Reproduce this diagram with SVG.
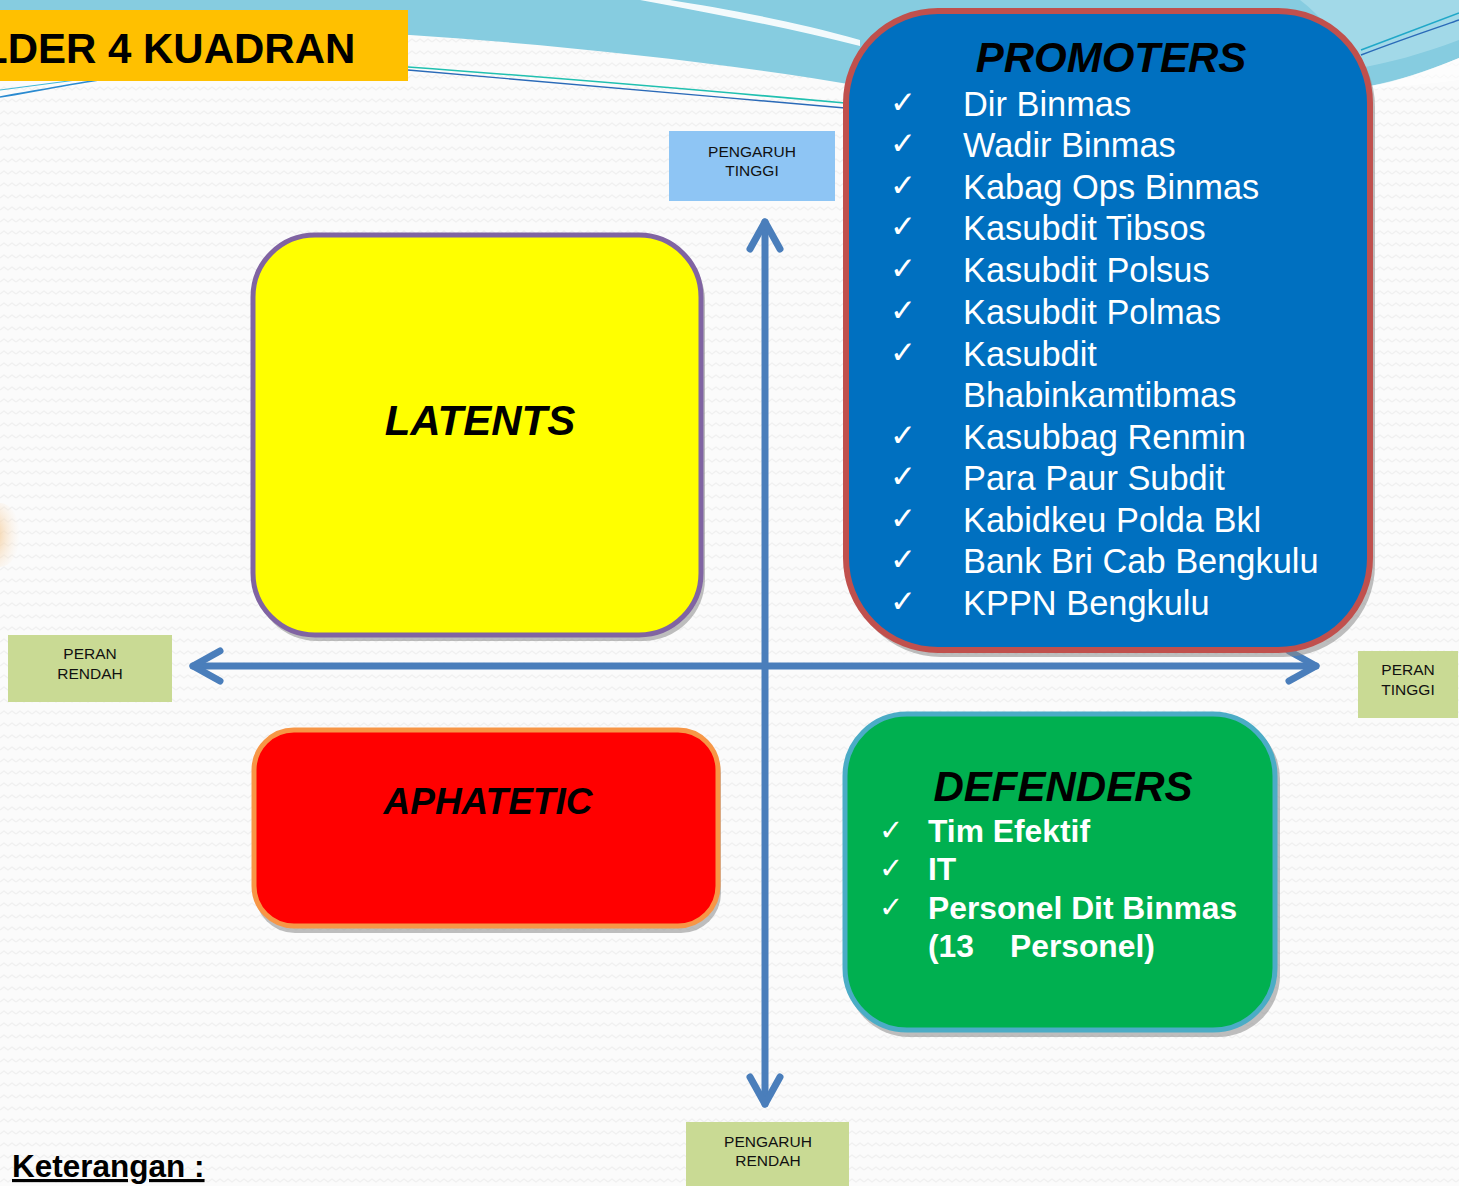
<svg xmlns="http://www.w3.org/2000/svg" width="1459" height="1186" viewBox="0 0 1459 1186">
<defs>
<pattern id="zz" width="16" height="12" patternUnits="userSpaceOnUse">
<rect width="16" height="12" fill="#fbfbfb"/>
<path d="M0,6 L4,3 L8,6 L12,3 L16,6" fill="none" stroke="#f0f0f0" stroke-width="1.2"/>
</pattern>
<radialGradient id="peach" cx="0.3" cy="0.5" r="0.7">
<stop offset="0" stop-color="#f3c890"/>
<stop offset="1" stop-color="#fbe9d6" stop-opacity="0"/>
</radialGradient>
<style>
.lbl{font-family:"Liberation Sans",Arial,sans-serif;font-size:15.5px;fill:#111;text-anchor:middle}
.ttl{font-family:"Liberation Sans",Arial,sans-serif;font-weight:bold;font-style:italic;fill:#000;text-anchor:middle}
.pi{font-family:"Liberation Sans",Arial,sans-serif;font-size:34.4px;fill:#fff}
.di{font-family:"Liberation Sans",Arial,sans-serif;font-size:31.8px;font-weight:bold;fill:#fff}
.ck{font-family:"DejaVu Sans",sans-serif;fill:#fff}
.axis{stroke:#4a7ebb;stroke-width:7;fill:none;stroke-linecap:round;stroke-linejoin:round}
.shadow{fill:#8a8a8a;opacity:0.55}
</style>
</defs>
<rect width="1459" height="1186" fill="url(#zz)"/>
<!-- top swoosh background -->
<path d="M0,0 H1459 V58 C1425,72 1395,82 1370,86 L860,86 C720,62 560,45 410,35 L0,28 Z" fill="#86cce0"/>
<path d="M1300,0 H1459 V40 C1420,55 1390,62 1360,68 C1340,40 1320,15 1300,0 Z" fill="#a9dcea" opacity="0.8"/>
<path d="M1370,86 C1400,80 1430,70 1459,58 V80 C1430,84 1400,86 1370,90 Z" fill="#ffffff" opacity="0.6"/>
<path d="M640,0 C720,15 790,28 860,46 L860,40 C790,20 720,8 670,0 Z" fill="#ffffff" opacity="0.9"/>
<path d="M408,67 C560,78 700,90 845,103" fill="none" stroke="#20c0b0" stroke-width="1.6"/>
<path d="M408,70 C560,82 700,96 845,108" fill="none" stroke="#2a6ab8" stroke-width="1.4"/>
<path d="M0,97 C30,92 60,86 99,80" fill="none" stroke="#2a8ad0" stroke-width="1.6"/>
<path d="M0,90 C30,86 60,82 99,77" fill="none" stroke="#40b8d8" stroke-width="1.2"/>
<path d="M1361,50 C1400,35 1430,24 1459,13" fill="none" stroke="#20a8c8" stroke-width="1.6"/>
<path d="M1361,55 C1400,40 1430,30 1459,20" fill="none" stroke="#2a6ab8" stroke-width="1.4"/>
<!-- peach blob at left edge -->
<ellipse cx="0" cy="535" rx="20" ry="32" fill="url(#peach)"/>

<g id="title">
<rect x="0" y="10" width="408" height="71" fill="#ffc000"/>
<text x="-18" y="63" font-family="'Liberation Sans',Arial,sans-serif" font-size="42" font-weight="bold" fill="#000">LDER 4 KUADRAN</text>
</g>

<g id="connectors">
<line class="axis" x1="765" y1="222" x2="765" y2="1104"/>
<line class="axis" x1="193" y1="666" x2="1316" y2="666"/>
<polyline class="axis" points="750,249 765,222 780,249"/>
<polyline class="axis" points="750,1077 765,1104 780,1077"/>
<polyline class="axis" points="220,651 193,666 220,681"/>
<polyline class="axis" points="1289,651 1316,666 1289,681"/>
</g>

<g id="latents">
<rect class="shadow" x="255" y="239" width="450" height="402" rx="62"/>
<rect x="253" y="235" width="448" height="400" rx="62" fill="#ffff00" stroke="#8064a2" stroke-width="5"/>
<text class="ttl" x="480" y="435" font-size="42">LATENTS</text>
</g>

<g id="aphatetic">
<rect class="shadow" x="255" y="734" width="466" height="199" rx="40"/>
<rect x="254" y="730" width="464" height="196" rx="40" fill="#ff0000" stroke="#f79646" stroke-width="5"/>
<text class="ttl" x="488" y="814" font-size="37">APHATETIC</text>
</g>

<g id="promoters">
<rect class="shadow" x="849" y="15" width="526" height="642" rx="92"/>
<rect x="846" y="11" width="524" height="639" rx="92" fill="#0070c0" stroke="#c0504d" stroke-width="6"/>
<text class="ttl" x="1111" y="72" font-size="42">PROMOTERS</text>
<g class="ck" font-size="31">
<text x="890" y="113">✓</text>
<text x="890" y="154">✓</text>
<text x="890" y="196">✓</text>
<text x="890" y="237">✓</text>
<text x="890" y="279">✓</text>
<text x="890" y="321">✓</text>
<text x="890" y="363">✓</text>
<text x="890" y="446">✓</text>
<text x="890" y="487">✓</text>
<text x="890" y="529">✓</text>
<text x="890" y="570">✓</text>
<text x="890" y="612">✓</text>
</g>
<text class="pi" x="963" y="116">Dir Binmas</text>
<text class="pi" x="963" y="157">Wadir Binmas</text>
<text class="pi" x="963" y="199">Kabag Ops Binmas</text>
<text class="pi" x="963" y="240">Kasubdit Tibsos</text>
<text class="pi" x="963" y="282">Kasubdit Polsus</text>
<text class="pi" x="963" y="324">Kasubdit Polmas</text>
<text class="pi" x="963" y="366">Kasubdit</text>
<text class="pi" x="963" y="407">Bhabinkamtibmas</text>
<text class="pi" x="963" y="449">Kasubbag Renmin</text>
<text class="pi" x="963" y="490">Para Paur Subdit</text>
<text class="pi" x="963" y="532">Kabidkeu Polda Bkl</text>
<text class="pi" x="963" y="573">Bank Bri Cab Bengkulu</text>
<text class="pi" x="963" y="615">KPPN Bengkulu</text>
</g>

<g id="defenders">
<rect class="shadow" x="847" y="717" width="433" height="320" rx="62"/>
<rect x="845" y="714" width="430" height="316" rx="62" fill="#00b050" stroke="#4bacc6" stroke-width="5"/>
<text class="ttl" x="1063" y="801" font-size="42">DEFENDERS</text>
<g class="ck" font-size="29">
<text x="879" y="840">✓</text>
<text x="879" y="878">✓</text>
<text x="879" y="917">✓</text>
</g>
<text class="di" x="928" y="842">Tim Efektif</text>
<text class="di" x="928" y="880">IT</text>
<text class="di" x="928" y="919">Personel Dit Binmas</text>
<text class="di" x="928" y="957">(13</text>
<text class="di" x="1010" y="957">Personel)</text>
</g>

<g id="pengaruh-tinggi">
<rect x="669" y="131" width="166" height="70" fill="#8ec5f4"/>
<text class="lbl" x="752" y="157">PENGARUH</text>
<text class="lbl" x="752" y="176">TINGGI</text>
</g>
<g id="peran-rendah">
<rect x="8" y="635" width="164" height="67" fill="#c9da94"/>
<text class="lbl" x="90" y="659">PERAN</text>
<text class="lbl" x="90" y="679">RENDAH</text>
</g>
<g id="peran-tinggi">
<rect x="1358" y="651" width="100" height="67" fill="#c9da94"/>
<text class="lbl" x="1408" y="675">PERAN</text>
<text class="lbl" x="1408" y="695">TINGGI</text>
</g>
<g id="pengaruh-rendah">
<rect x="686" y="1122" width="163" height="64" fill="#c9da94"/>
<text class="lbl" x="768" y="1147">PENGARUH</text>
<text class="lbl" x="768" y="1166">RENDAH</text>
</g>

<g id="keterangan">
<text x="12" y="1177" font-family="'Liberation Sans',Arial,sans-serif" font-size="31.5" font-weight="bold" fill="#000" text-decoration="underline">Keterangan :</text>
</g>
</svg>
